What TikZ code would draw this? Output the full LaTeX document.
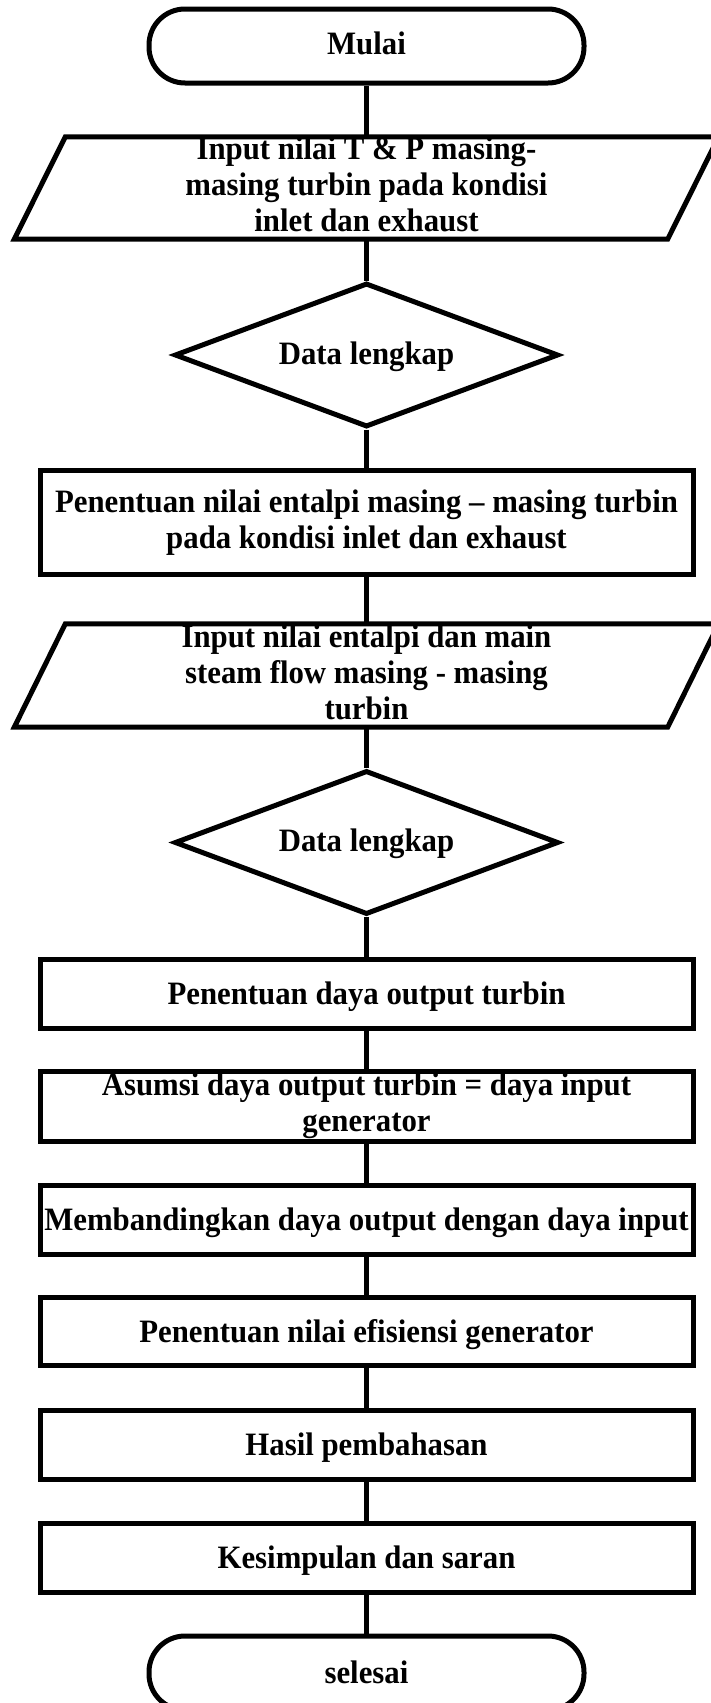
\documentclass[tikz,border=0pt]{standalone}
\usepackage{graphicx}
\usepackage{fontspec}
\setmainfont{Liberation Serif}
\usetikzlibrary{shapes.geometric}
\newcommand\tx[2][0pt]{\raisebox{#1}[\height][\depth]{\scalebox{1}[1.06]{\begin{tabular}{@{}c@{}}#2\end{tabular}}}}
\newcommand\txs[2][0pt]{\raisebox{#1}[0.85\height][0.85\depth]{\scalebox{1}[1.06]{\begin{tabular}{@{}c@{}}#2\end{tabular}}}}
\begin{document}
\begin{tikzpicture}[x=1pt,y=-1pt,
  every node/.style={font=\fontsize{30.8}{34}\selectfont\bfseries, align=center, inner sep=0pt},
  fl/.style={line width=5pt, draw=black},
  term/.style={fl, rectangle, rounded corners=36pt, minimum width=435pt, minimum height=74pt},
  procbox/.style={fl, rectangle, minimum width=653pt, minimum height=#1},
  iobox/.style={rectangle, minimum width=653pt, minimum height=#1},
  decide/.style={fl, diamond, aspect=2.67, minimum width=384pt, minimum height=144pt},
  link/.style={line width=5pt}
]
\useasboundingbox[fill=white] (0,0) rectangle (710,1703);

\node[term] (start) at (366.5,46) {\tx[-1pt]{Mulai}};

\node[iobox=102pt] (p1) at (366.5,188) {\txs[-1.5pt]{Input nilai T \& P masing-\\masing turbin pada kondisi\\inlet dan exhaust}};
\draw[fl] ([xshift=-25.5pt]p1.south west) -- ([xshift=25.5pt]p1.north west) -- ([xshift=25.5pt]p1.north east) -- ([xshift=-25.5pt]p1.south east) -- cycle;

\node[decide] (d1) at (366.5,355) {\tx[-2pt]{Data lengkap}};

\node[procbox=104pt] (b1) at (366.5,522) {\tx[-1pt]{Penentuan nilai entalpi masing – masing turbin\\pada kondisi inlet dan exhaust}};

\node[iobox=103pt] (p2) at (366.5,675.5) {\txs[-1.5pt]{Input nilai entalpi dan main\\steam flow masing - masing\\turbin}};
\draw[fl] ([xshift=-25.5pt]p2.south west) -- ([xshift=25.5pt]p2.north west) -- ([xshift=25.5pt]p2.north east) -- ([xshift=-25.5pt]p2.south east) -- cycle;

\node[decide] (d2) at (366.5,842.5) {\tx[-2pt]{Data lengkap}};

\node[procbox=69pt] (b2) at (366.5,993.5) {\tx[-4pt]{Penentuan daya output turbin}};
\node[procbox=70pt] (b3) at (366.5,1106) {\txs[-1pt]{Asumsi daya output turbin = daya input\\generator}};
\node[procbox=69pt] (b4) at (366.5,1219.5) {\tx[-4pt]{Membandingkan daya output dengan daya input}};
\node[procbox=68pt] (b5) at (366.5,1331) {\tx[-4pt]{Penentuan nilai efisiensi generator}};
\node[procbox=69pt] (b6) at (366.5,1444.5) {\tx[-4pt]{Hasil pembahasan}};
\node[procbox=69pt] (b7) at (366.5,1557.5) {\tx[-4pt]{Kesimpulan dan saran}};

\node[term] (stop) at (366.5,1673) {\tx[-3pt]{selesai}};

\draw[link] (start.south) -- (p1.north);
\draw[link] (p1.south) -- (d1.north);
\draw[link] (d1.south) -- (b1.north);
\draw[link] (b1.south) -- (p2.north);
\draw[link] (p2.south) -- (d2.north);
\draw[link] (d2.south) -- (b2.north);
\draw[link] (b2.south) -- (b3.north);
\draw[link] (b3.south) -- (b4.north);
\draw[link] (b4.south) -- (b5.north);
\draw[link] (b5.south) -- (b6.north);
\draw[link] (b6.south) -- (b7.north);
\draw[link] (b7.south) -- (stop.north);
\end{tikzpicture}
\end{document}
